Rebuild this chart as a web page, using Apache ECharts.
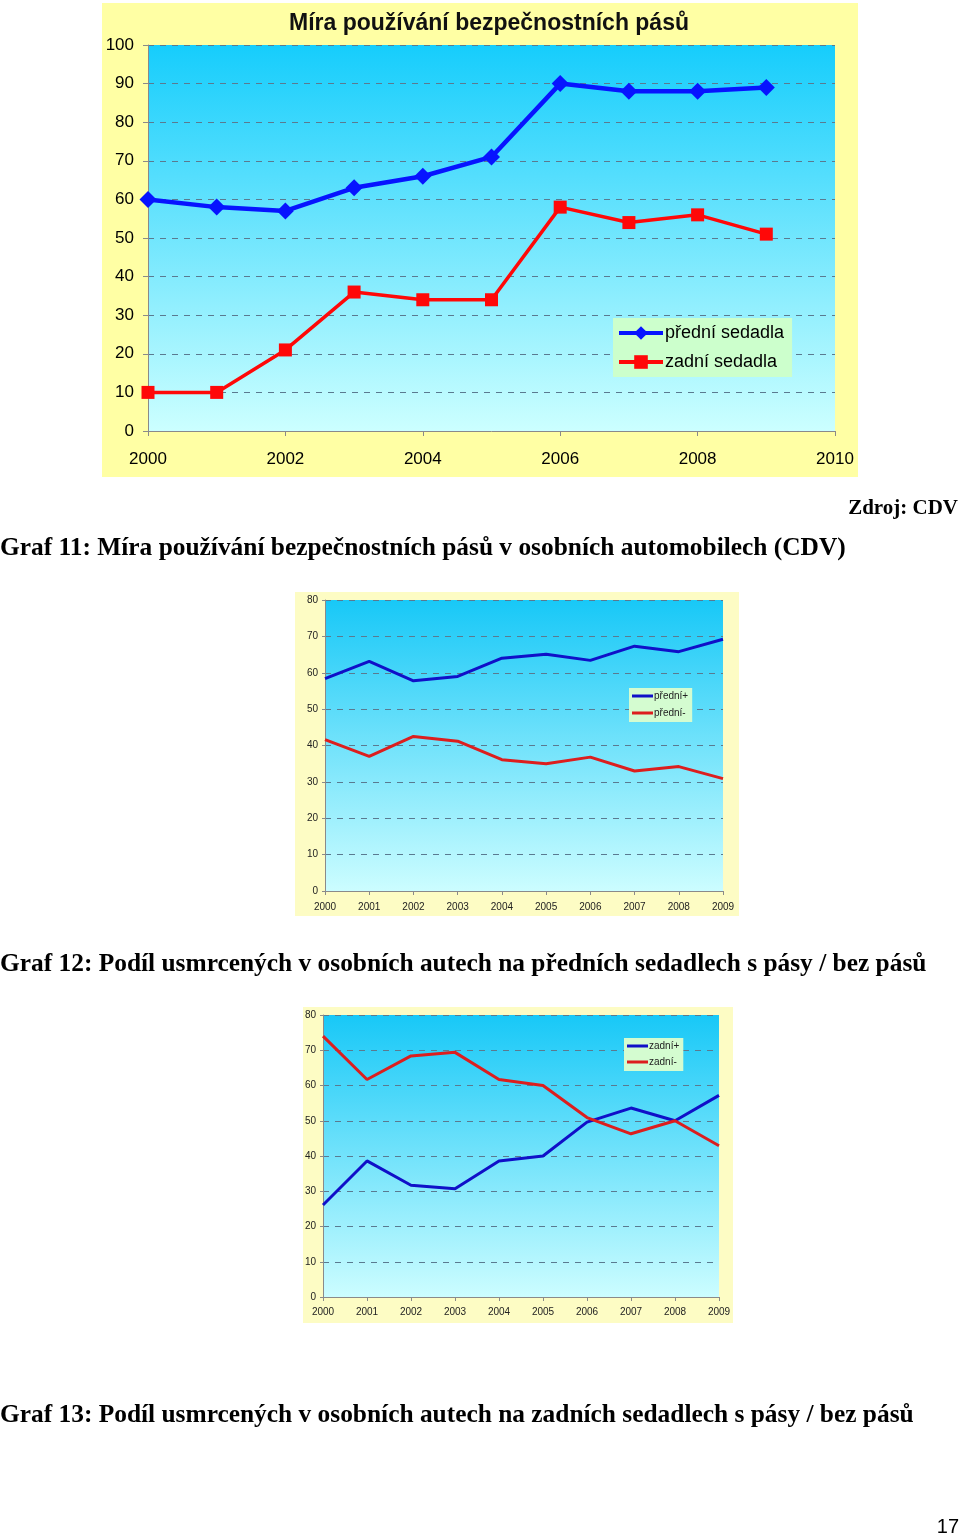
<!DOCTYPE html>
<html><head><meta charset="utf-8">
<script src="https://cdn.jsdelivr.net/npm/echarts@6/dist/echarts.min.js"></script>
<style>html,body{margin:0;padding:0;background:#fff}#c{width:960px;height:1538px}</style>
</head><body><div id="c"></div>
<script>
// Chart 1 data
const years1 = [2000,2001,2002,2003,2004,2005,2006,2007,2008,2009];
const predniSedadla = [60,58,57,63,66,71,90,88,88,89];
const zadniSedadla = [10,10,21,36,34,34,58,54,56,51];
const xTicks1 = [2000,2002,2004,2006,2008,2010];
// Chart 2 data
const years2 = ['2000','2001','2002','2003','2004','2005','2006','2007','2008','2009'];
const predniPlus = [58.4,63.1,57.8,59.0,64.0,65.1,63.4,67.3,65.8,69.2];
const predniMinus = [41.6,37.0,42.5,41.2,36.1,35.0,36.8,33.0,34.2,30.9];
// Chart 3 data
const zadniPlus = [26.1,38.6,31.7,30.7,38.6,40.0,49.6,53.6,50.0,57.2];
const zadniMinus = [74.0,61.7,68.4,69.4,61.7,60.0,50.9,46.3,50.0,42.9];

const chart = echarts.init(document.getElementById('c'), null, {renderer:'canvas'});
const grad = (a,b)=>({type:'linear',x:0,y:0,x2:0,y2:1,colorStops:[{offset:0,color:a},{offset:1,color:b}]});
const sans = 'Liberation Sans, Arial, sans-serif';
const serif = 'Liberation Serif, Times New Roman, serif';

const splitDash = {show:true,lineStyle:{color:'#5a7a90',type:[6,6],width:1}};

chart.setOption({
  animation:false,
  backgroundColor:'#ffffff',
  grid:[
    {left:148,top:45,width:687,height:386,show:true,borderWidth:0,backgroundColor:grad('#16cdfc','#ccffff')},
    {left:325,top:600,width:398,height:291,show:true,borderWidth:0,backgroundColor:grad('#18c8f7','#ccfdff')},
    {left:323,top:1015,width:396,height:282,show:true,borderWidth:0,backgroundColor:grad('#18c8f7','#ccfdff')}
  ],
  xAxis:[
    {gridIndex:0,type:'value',min:2000,max:2010,interval:2,
     axisLine:{show:true,lineStyle:{color:'#8a8a8a'}},axisTick:{show:true,length:5,lineStyle:{color:'#8a8a8a'}},
     splitLine:{show:false},
     axisLabel:{color:'#000',fontFamily:sans,fontSize:17,margin:20,formatter:v=>String(v)}},
    {gridIndex:1,type:'category',data:years2,boundaryGap:false,
     axisLine:{show:true,lineStyle:{color:'#8a8a8a'}},axisTick:{show:true,length:4,alignWithLabel:true,lineStyle:{color:'#8a8a8a'}},
     axisLabel:{color:'#222',fontFamily:sans,fontSize:10,margin:11,interval:0}},
    {gridIndex:2,type:'category',data:years2,boundaryGap:false,
     axisLine:{show:true,lineStyle:{color:'#8a8a8a'}},axisTick:{show:true,length:4,alignWithLabel:true,lineStyle:{color:'#8a8a8a'}},
     axisLabel:{color:'#222',fontFamily:sans,fontSize:10,margin:10,interval:0}}
  ],
  yAxis:[
    {gridIndex:0,type:'value',min:0,max:100,interval:10,
     axisLine:{show:true,lineStyle:{color:'#8a8a8a'}},axisTick:{show:true,length:5,lineStyle:{color:'#8a8a8a'}},
     splitLine:splitDash,
     axisLabel:{color:'#000',fontFamily:sans,fontSize:17,margin:14}},
    {gridIndex:1,type:'value',min:0,max:80,interval:10,
     axisLine:{show:true,lineStyle:{color:'#8a8a8a'}},axisTick:{show:true,length:3,lineStyle:{color:'#8a8a8a'}},
     splitLine:splitDash,
     axisLabel:{color:'#222',fontFamily:sans,fontSize:10,margin:7}},
    {gridIndex:2,type:'value',min:0,max:80,interval:10,
     axisLine:{show:true,lineStyle:{color:'#8a8a8a'}},axisTick:{show:true,length:3,lineStyle:{color:'#8a8a8a'}},
     splitLine:splitDash,
     axisLabel:{color:'#222',fontFamily:sans,fontSize:10,margin:7}}
  ],
  legend:[
    {data:['přední sedadla','zadní sedadla'],orient:'vertical',left:613,top:318,
     backgroundColor:'#ccffcc',padding:[6,8,6,4],itemGap:11,itemWidth:44,itemHeight:17,
     lineStyle:{width:4},
     textStyle:{fontFamily:sans,fontSize:18,color:'#000',padding:[0,0,0,-3]}},
    {data:['přední+','přední-'],orient:'vertical',left:629,top:688,icon:'rect',
     backgroundColor:'#d4fcd0',padding:[3,4,4,3],itemGap:7,itemWidth:21,itemHeight:3,
     textStyle:{fontFamily:sans,fontSize:10,color:'#222',padding:[0,0,0,-4]}},
    {data:['zadní+','zadní-'],orient:'vertical',left:624,top:1038,icon:'rect',
     backgroundColor:'#d4fcd0',padding:[3,4,4,3],itemGap:6,itemWidth:21,itemHeight:3,
     textStyle:{fontFamily:sans,fontSize:10,color:'#222',padding:[0,0,0,-4]}}
  ],
  series:[
    {name:'přední sedadla',type:'line',xAxisIndex:0,yAxisIndex:0,
     data:years1.map((y,i)=>[y,predniSedadla[i]]),
     symbol:'diamond',symbolSize:17,itemStyle:{color:'#0714ff'},lineStyle:{color:'#0714ff',width:4.5}},
    {name:'zadní sedadla',type:'line',xAxisIndex:0,yAxisIndex:0,
     data:years1.map((y,i)=>[y,zadniSedadla[i]]),
     symbol:'rect',symbolSize:13,itemStyle:{color:'#ff0808'},lineStyle:{color:'#ff0808',width:3.5}},
    {name:'přední+',type:'line',xAxisIndex:1,yAxisIndex:1,data:predniPlus,
     showSymbol:false,symbol:'none',itemStyle:{color:'#1010c8'},lineStyle:{color:'#1010c8',width:3}},
    {name:'přední-',type:'line',xAxisIndex:1,yAxisIndex:1,data:predniMinus,
     showSymbol:false,symbol:'none',itemStyle:{color:'#dc1e1e'},lineStyle:{color:'#dc1e1e',width:3}},
    {name:'zadní+',type:'line',xAxisIndex:2,yAxisIndex:2,data:zadniPlus,
     showSymbol:false,symbol:'none',itemStyle:{color:'#1010c8'},lineStyle:{color:'#1010c8',width:3}},
    {name:'zadní-',type:'line',xAxisIndex:2,yAxisIndex:2,data:zadniMinus,
     showSymbol:false,symbol:'none',itemStyle:{color:'#dc1e1e'},lineStyle:{color:'#dc1e1e',width:3}}
  ],
  graphic:[
    {type:'rect',z:-10,shape:{x:102,y:3,width:756,height:474},style:{fill:'#ffffa4'}},
    {type:'rect',z:-10,shape:{x:295,y:592,width:444,height:324},style:{fill:'#fdfcc4'}},
    {type:'rect',z:-10,shape:{x:303,y:1007,width:430,height:316},style:{fill:'#fdfcc4'}},
    {type:'text',z:50,x:489,y:24,style:{text:'Míra používání bezpečnostních pásů',fontFamily:sans,fontWeight:'bold',fontSize:23,fill:'#111',align:'center',verticalAlign:'middle'}},
    {type:'text',z:50,x:958,y:509,style:{text:'Zdroj: CDV',fontFamily:serif,fontWeight:'bold',fontSize:21,fill:'#000',align:'right',verticalAlign:'middle'}},
    {type:'text',z:50,x:0,y:548,style:{text:'Graf 11: Míra používání bezpečnostních pásů v osobních automobilech (CDV)',fontFamily:serif,fontWeight:'bold',fontSize:25.4,fill:'#000',align:'left',verticalAlign:'middle'}},
    {type:'text',z:50,x:0,y:964,style:{text:'Graf 12: Podíl usmrcených v osobních autech na předních sedadlech s pásy / bez pásů',fontFamily:serif,fontWeight:'bold',fontSize:25.4,fill:'#000',align:'left',verticalAlign:'middle'}},
    {type:'text',z:50,x:0,y:1415,style:{text:'Graf 13: Podíl usmrcených v osobních autech na zadních sedadlech s pásy / bez pásů',fontFamily:serif,fontWeight:'bold',fontSize:25.4,fill:'#000',align:'left',verticalAlign:'middle'}},
    {type:'text',z:50,x:959,y:1527,style:{text:'17',fontFamily:sans,fontSize:20,fill:'#000',align:'right',verticalAlign:'middle'}}
  ]
});
</script></body></html>
